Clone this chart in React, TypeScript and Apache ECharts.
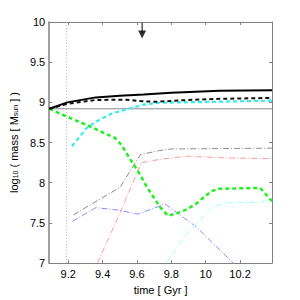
import React, { useEffect, useRef } from "react";
import * as echarts from "echarts";

const xTicks = [9.2, 9.4, 9.6, 9.8, 10, 10.2];
const yTicks = [7, 7.5, 8, 8.5, 9, 9.5, 10];

const blackSolid = [[9.09, 8.92], [9.195, 9.0], [9.36, 9.062], [9.5, 9.083], [9.639, 9.098], [9.8, 9.12], [10.08, 9.143], [10.386, 9.15]];
const blackDashed = [[9.09, 8.92], [9.195, 8.982], [9.36, 9.03], [9.54, 9.033], [9.639, 9.012], [9.72, 9.008], [9.9, 9.03], [10.1, 9.045], [10.386, 9.055]];
const cyanThick = [[9.222, 8.454], [9.306, 8.68], [9.361, 8.76], [9.454, 8.862], [9.639, 8.972], [9.73, 8.995], [10.0, 9.005], [10.386, 9.022]];
const greenThick = [[9.09, 8.92], [9.195, 8.82], [9.306, 8.72], [9.417, 8.61], [9.47, 8.56], [9.51, 8.47], [9.567, 8.27], [9.604, 8.15], [9.66, 7.94], [9.733, 7.70], [9.78, 7.59], [9.835, 7.62], [9.89, 7.67], [9.946, 7.74], [10.0, 7.84], [10.04, 7.90], [10.076, 7.925], [10.317, 7.935], [10.386, 7.77]];
const grayDashDot = [[9.23, 7.60], [9.38, 7.79], [9.5, 7.94], [9.62, 8.35], [9.73, 8.40], [9.8, 8.42], [10.386, 8.43]];
const redDashDot = [[9.37, 7.0], [9.5, 7.62], [9.625, 8.25], [9.73, 8.29], [9.89, 8.33], [10.1, 8.31], [10.386, 8.30]];
const blueDashDot = [[9.224, 7.52], [9.36, 7.69], [9.49, 7.66], [9.604, 7.61], [9.72, 7.70], [9.76, 7.74], [9.946, 7.45], [10.16, 7.0]];
const cyanDashDot = [[9.77, 7.0], [9.89, 7.37], [10.04, 7.70], [10.13, 7.75], [10.32, 7.76], [10.386, 7.80]];
const baseLine = [[9.09, 8.92], [10.386, 8.92]];
const markerLine = [[9.19, 7], [9.19, 10]];
const arrowShaft = [[9.63, 9.99], [9.63, 9.86]];
const arrowHead = [[9.63, 9.845]];

const X_MIN = 9.089;
const X_MAX = 10.386;

const fmt = (v: number) => String(Math.round(v * 10) / 10);

export default function App() {
  const ref = useRef<HTMLDivElement>(null);
  useEffect(() => {
    if (!ref.current) return;
    const chart = echarts.init(ref.current, undefined, { renderer: "svg" });
    const axisColor = "#808080";
    const font = "Liberation Sans, Arial, sans-serif";
    const thin = (data: number[][], color: string) => ({
      type: "line", data, symbol: "none", xAxisIndex: 0, yAxisIndex: 0,
      lineStyle: { color, width: 1, type: [6, 2, 1, 2] }, z: 3,
    });
    chart.setOption({
      animation: false,
      grid: { left: 39, right: 28, top: 22, bottom: 33 },
      xAxis: [
        {
          type: "value", min: X_MIN, max: X_MAX,
          name: "time [ Gyr ]", nameLocation: "middle", nameGap: 14,
          nameTextStyle: { fontSize: 11, color: "#000", fontFamily: font },
          axisLine: { lineStyle: { color: axisColor, width: 1 } },
          axisTick: { inside: true, length: 3, lineStyle: { color: axisColor }, customValues: xTicks },
          axisLabel: { fontSize: 11, color: "#000", fontFamily: font, margin: 5, customValues: xTicks, formatter: fmt },
          splitLine: { show: false },
        },
        {
          type: "value", min: X_MIN, max: X_MAX, position: "top",
          axisLine: { lineStyle: { color: axisColor, width: 1 } },
          axisTick: { inside: true, length: 3, lineStyle: { color: axisColor }, customValues: xTicks },
          axisLabel: { show: false },
          splitLine: { show: false },
        },
      ],
      yAxis: [
        {
          type: "value", min: 7, max: 10, interval: 0.5,
          name: "log{sub|10} ( mass [ M{sub|sun} ] )", nameLocation: "middle", nameGap: 22,
          nameTextStyle: {
            fontSize: 11, color: "#000", fontFamily: font,
            rich: { sub: { fontSize: 7, fontFamily: font, color: "#000", padding: [4, 0, 0, 0] } },
          },
          axisLine: { show: true, lineStyle: { color: axisColor, width: 1.5 } },
          axisTick: { show: true, inside: true, length: 3, lineStyle: { color: axisColor } },
          axisLabel: { fontSize: 11, color: "#000", fontFamily: font, margin: 4, formatter: fmt },
          splitLine: { show: false },
        },
        {
          type: "value", min: 7, max: 10, interval: 0.5, position: "right",
          axisLine: { show: true, lineStyle: { color: axisColor, width: 1 } },
          axisTick: { show: true, inside: true, length: 3, lineStyle: { color: axisColor } },
          axisLabel: { show: false },
          splitLine: { show: false },
        },
      ],
      series: [
        { type: "line", data: markerLine, symbol: "none", lineStyle: { color: "#bbbbbb", width: 1, type: [1, 2] }, z: 1 },
        { type: "line", data: baseLine, symbol: "none", lineStyle: { color: "#8a8a8a", width: 1 }, z: 1 },
        thin(grayDashDot, "#8c8c8c"),
        thin(redDashDot, "#ff9c9c"),
        thin(blueDashDot, "#8c8cff"),
        thin(cyanDashDot, "#a0ffff"),
        { type: "line", data: greenThick, symbol: "none", lineStyle: { color: "#22ee22", width: 2.5, type: [4, 3] }, z: 4 },
        { type: "line", data: cyanThick, symbol: "none", lineStyle: { color: "#33eeee", width: 2.2, type: [4, 3] }, z: 4 },
        { type: "line", data: blackDashed, symbol: "none", lineStyle: { color: "#111", width: 2, type: [4, 3] }, z: 5 },
        { type: "line", data: blackSolid, symbol: "none", lineStyle: { color: "#000", width: 2 }, z: 5 },
        { type: "line", data: arrowShaft, symbol: "none", lineStyle: { color: "#000", width: 1 }, z: 6 },
        { type: "scatter", data: arrowHead, symbol: "triangle", symbolRotate: 180, symbolSize: [8, 8], itemStyle: { color: "#000" }, z: 6 },
      ],
    });
    return () => chart.dispose();
  }, []);
  return (
    <div
      ref={ref}
      style={{ position: "absolute", left: 0, top: 0, width: 300, height: 300, background: "#fff" }}
    />
  );
}
